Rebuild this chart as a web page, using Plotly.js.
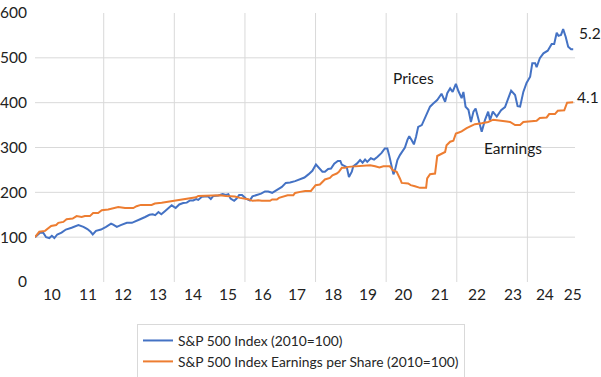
<!DOCTYPE html>
<html>
<head>
<meta charset="utf-8">
<script src="https://cdn.plot.ly/plotly-3.0.1.min.js"></script>
<style>html,body{margin:0;padding:0;background:#fff;}#chart{width:601px;height:377px;}</style>
</head>
<body>
<div id="chart"></div>
<script>
// S&P 500 Index (2010=100)
const priceYears = [2010.00,2010.14,2010.23,2010.31,2010.40,2010.47,2010.54,2010.62,2010.74,2010.86,
2011.02,2011.21,2011.35,2011.46,2011.55,2011.61,2011.70,2011.84,2011.98,2012.12,
2012.18,2012.28,2012.39,2012.56,2012.70,2012.81,2012.93,2013.07,2013.19,2013.28,
2013.35,2013.44,2013.52,2013.62,2013.72,2013.81,2013.92,2014.02,2014.13,2014.23,
2014.32,2014.41,2014.49,2014.55,2014.65,2014.74,2014.82,2014.90,2014.97,2015.11,
2015.23,2015.32,2015.39,2015.45,2015.55,2015.62,2015.69,2015.77,2015.88,2015.99,
2016.06,2016.18,2016.30,2016.41,2016.50,2016.61,2016.69,2016.78,2016.88,2016.99,
2017.11,2017.25,2017.39,2017.51,2017.62,2017.73,2017.83,2017.92,2018.01,2018.08,
2018.17,2018.25,2018.34,2018.44,2018.51,2018.55,2018.69,2018.75,2018.83,2018.87,
2018.97,2019.06,2019.13,2019.20,2019.26,2019.36,2019.45,2019.54,2019.66,2019.75,
2019.82,2019.87,2019.94,2019.99,2020.03,2020.10,2020.17,2020.25,2020.31,2020.38,
2020.43,2020.50,2020.56,2020.62,2020.68,2020.78,2020.84,2020.93,2021.01,2021.10,
2021.21,2021.33,2021.43,2021.49,2021.57,2021.64,2021.73,2021.80,2021.89,2021.94,
2022.00,2022.08,2022.15,2022.22,2022.28,2022.34,2022.45,2022.54,2022.63,2022.68,
2022.76,2022.87,2022.99,2023.10,2023.19,2023.27,2023.38,2023.45,2023.52,2023.61,
2023.70,2023.80,2023.86,2023.94,2023.98,2024.07,2024.17,2024.29,2024.40,2024.47,
2024.54,2024.59,2024.66,2024.72,2024.79,2024.86,2024.94,2025.00];
const priceValues = [100,110,110,100,98,103,98,106,110,117,
121,127,123,118,112,106,114,117,123,130,
128,123,127,132,132,135,140,145,150,151,
149,156,151,158,166,171,165,173,176,177,
182,182,185,183,190,190,191,185,192,193,
196,194,196,186,181,186,194,194,186,182,
191,194,197,202,202,199,203,208,212,221,
222,225,229,233,240,248,262,255,246,246,
252,253,264,270,270,262,256,234,246,258,
264,272,266,273,268,276,273,279,288,298,
298,283,257,240,249,272,283,294,300,317,
325,316,307,324,346,350,361,376,391,398,
406,420,402,421,432,424,442,426,410,424,
391,384,357,380,387,369,335,361,380,361,
380,369,383,390,412,427,417,392,391,424,
444,458,488,488,479,499,510,516,531,531,
556,549,551,564,547,525,519,519];

// S&P 500 Index Earnings per Share (2010=100)
const epsYears = [2010.00,2010.12,2010.28,2010.37,2010.45,2010.59,2010.65,2010.79,2010.88,2011.05,
2011.16,2011.30,2011.39,2011.53,2011.62,2011.76,2011.86,2012.04,2012.14,2012.32,
2012.51,2012.74,2012.83,2012.95,2013.25,2013.34,2013.53,2013.76,2013.95,2014.09,
2014.32,2014.49,2014.55,2014.88,2015.16,2015.32,2015.57,2015.71,2015.88,2015.94,
2016.06,2016.22,2016.32,2016.55,2016.61,2016.74,2016.80,2016.92,2017.04,2017.20,
2017.25,2017.39,2017.53,2017.69,2017.76,2017.82,2017.94,2018.01,2018.08,2018.22,
2018.29,2018.41,2018.47,2018.55,2018.64,2018.73,2018.97,2019.15,2019.34,2019.48,
2019.60,2019.71,2019.89,2019.97,2020.08,2020.17,2020.22,2020.40,2020.47,2020.59,
2020.73,2020.90,2020.93,2021.01,2021.15,2021.21,2021.29,2021.43,2021.47,2021.57,
2021.66,2021.73,2021.83,2021.89,2022.03,2022.17,2022.26,2022.45,2022.63,2022.77,
2022.91,2023.15,2023.24,2023.38,2023.52,2023.61,2023.98,2024.07,2024.26,2024.33,
2024.49,2024.57,2024.75,2024.83,2025.00];
const epsValues = [100,112,114,121,125,127,132,134,140,141.5,
147,145,147,147,154,154,160,161.7,163,167,
165,165,169,172,172,175,177,180,183,185,
187.6,189,192,193.6,193.6,192,190.7,187.6,186,184.7,
181,182.5,181,181,184,184,187.6,190,193.6,193.6,
198.7,201,203,203,210.8,216,217.5,223,228.6,232,
238,242,245.6,254.6,254.6,256.8,258,260,260.6,258,
255.5,258,258,249.4,245.6,231,221,219.7,216,213.7,
210,210,231,240.5,242,281,285,290,305,313,
315,331,334,336,343,348,352,354,357,362,
360,358,357,350,350,357,359.5,366,367,374.5,
374.5,382,383,400,401];

const seriesNames = ['S&P 500 Index (2010=100)', 'S&P 500 Index Earnings per Share (2010=100)'];
const xTickLabels = ['10','11','12','13','14','15','16','17','18','19','20','21','22','23','24','25'];
const yTickLabels = ['0','100','200','300','400','500','600'];
const noteTexts = ['Prices', 'Earnings', '5.2', '4.1'];

// layout positions (label placement, gridline spacing)
const xTickPos = [2010.47,2011.48,2012.45,2013.43,2014.40,2015.38,2016.35,2017.30,2018.31,2019.28,2020.26,2021.29,2022.32,2023.32,2024.21,2024.99];
const yTickPos = [0,100,200,300,400,500,600];
const yGridPos = [100,200,300,400,500];
const xGridStart = 2011.915, xGridStep = 1.968, xGridCount = 7;
const xRange = [2010, 2025.05];
const yRange = [0, 600];
const gridColor = '#d9d9d9';

const traces = [
  {x: priceYears, y: priceValues, name: seriesNames[0], type: 'scatter', mode: 'lines',
   line: {color: '#4472C4', width: 2}},
  {x: epsYears, y: epsValues, name: seriesNames[1], type: 'scatter', mode: 'lines',
   line: {color: '#ED7D31', width: 2}, xaxis: 'x2', yaxis: 'y2'}
];

// gridlines drawn as layout shapes beneath the traces
const shapes = [];
for (let i = 0; i < xGridCount; i++) {
  const gx = xGridStart + i * xGridStep;
  shapes.push({type: 'line', xref: 'x', yref: 'paper', x0: gx, x1: gx, y0: 0, y1: 1,
               line: {color: gridColor, width: 1}, layer: 'below'});
}
yGridPos.forEach(function(gy){
  shapes.push({type: 'line', xref: 'paper', yref: 'y', x0: 0, x1: 1, y0: gy, y1: gy,
               line: {color: gridColor, width: 1}, layer: 'below'});
});

const txtFont = {family: 'Lato, sans-serif', size: 15.5, color: '#1a1a1a'};
const tickFont = {family: 'Lato, sans-serif', size: 15.5, color: '#222222'};

const layout = {
  width: 601, height: 377,
  margin: {l: 35, r: 26, t: 13, b: 95, pad: 0, autoexpand: false},
  paper_bgcolor: '#ffffff', plot_bgcolor: 'rgba(0,0,0,0)',
  font: {family: 'Lato, sans-serif', size: 14.5, color: '#262626'},
  showlegend: true,
  legend: {x: 137/601, xref: 'container', xanchor: 'left', y: 1 - 324/377, yref: 'container', yanchor: 'top',
           orientation: 'v', bordercolor: '#d9d9d9', borderwidth: 1, bgcolor: '#ffffff',
           font: {family: 'Lato, sans-serif', size: 13.8, color: '#262626'}, tracegroupgap: 0},
  xaxis: {range: xRange, showgrid: false, showticklabels: false, zeroline: false, ticks: ''},
  yaxis: {range: yRange, showgrid: false, showticklabels: false, zeroline: false, ticks: ''},
  xaxis2: {range: xRange, overlaying: 'x', anchor: 'y', tickmode: 'array', tickfont: tickFont,
           tickvals: xTickPos, ticktext: xTickLabels, showgrid: false, zeroline: false, ticks: '',
           ticklabelstandoff: 1},
  yaxis2: {range: yRange, overlaying: 'y', anchor: 'x', tickmode: 'array', tickfont: tickFont,
           tickvals: yTickPos, ticktext: yTickLabels, showgrid: false, zeroline: false, ticks: '',
           ticklabelstandoff: 7},
  shapes: shapes,
  annotations: [
    {x: 2020.535, y: 455, xref: 'x', yref: 'y', text: noteTexts[0], showarrow: false, font: txtFont, xanchor: 'center', yanchor: 'middle'},
    {x: 2023.32, y: 298, xref: 'x', yref: 'y', text: noteTexts[1], showarrow: false, font: txtFont, xanchor: 'center', yanchor: 'middle'},
    {x: 1.003, y: 555/600, xref: 'paper', yref: 'paper', text: noteTexts[2], showarrow: false, font: txtFont, xanchor: 'left', yanchor: 'middle'},
    {x: 1.0, y: 412/600, xref: 'paper', yref: 'paper', text: noteTexts[3], showarrow: false, font: txtFont, xanchor: 'left', yanchor: 'middle'}
  ]
};

Plotly.newPlot('chart', traces, layout, {staticPlot: true, displayModeBar: false});
</script>
</body>
</html>
